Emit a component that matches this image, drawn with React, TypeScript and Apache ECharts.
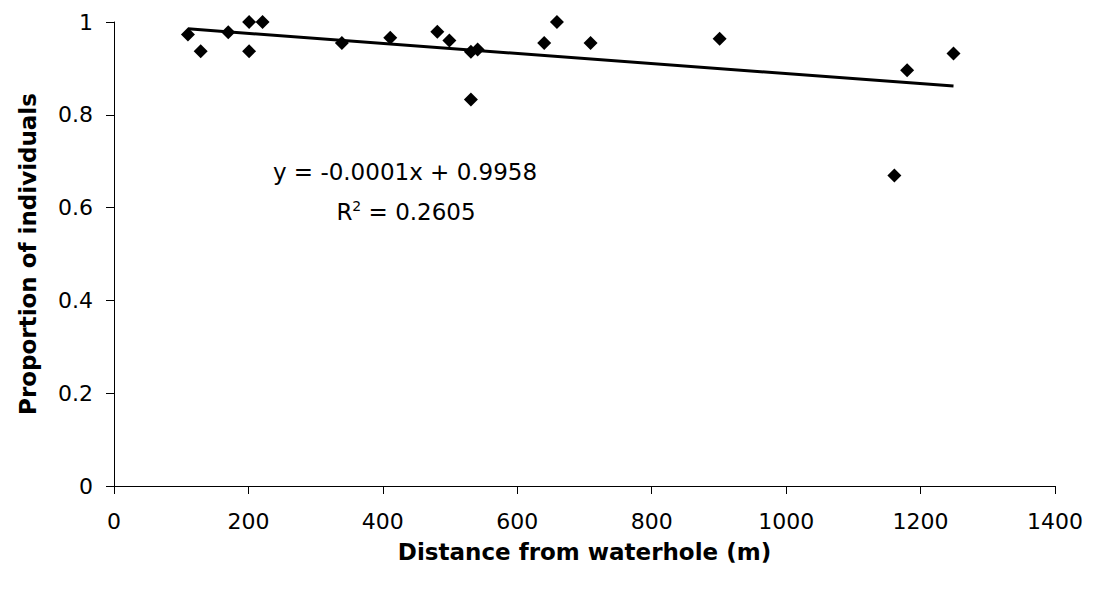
import React, { useEffect, useRef } from "react";
import * as echarts from "echarts";

const distances = [110, 129, 170, 201, 201, 221, 339, 411, 481, 499, 531, 541, 531, 640, 659, 709, 901, 1180, 1249, 1161];
const proportions = [0.973, 0.937, 0.978, 1.0, 0.937, 1.0, 0.955, 0.966, 0.979, 0.96, 0.936, 0.941, 0.833, 0.955, 1.0, 0.955, 0.964, 0.896, 0.932, 0.669];
const xTicks = [0, 200, 400, 600, 800, 1000, 1200, 1400];
const yTicks = [0, 0.2, 0.4, 0.6, 0.8, 1];
const equationText = "y = -0.0001x + 0.9958";
const r2Value = "0.2605";
const xTitle = "Distance from waterhole (m)";
const yTitle = "Proportion of individuals";

const FONT = "DejaVu Sans";

function fit(xs: number[], ys: number[]) {
  const n = xs.length;
  const mx = xs.reduce((a, b) => a + b, 0) / n;
  const my = ys.reduce((a, b) => a + b, 0) / n;
  let sxy = 0;
  let sxx = 0;
  for (let i = 0; i < n; i++) {
    sxy += (xs[i] - mx) * (ys[i] - my);
    sxx += (xs[i] - mx) * (xs[i] - mx);
  }
  const b = sxy / sxx;
  return { b, a: my - b * mx };
}

export default function App() {
  const ref = useRef<HTMLDivElement>(null);
  useEffect(() => {
    document.body.style.margin = "0";
    if (!ref.current) return;
    const chart = echarts.init(ref.current, null, { renderer: "svg" });
    const { a, b } = fit(distances, proportions);
    const xmin = Math.min(...distances);
    const xmax = Math.max(...distances);
    const trend = [
      [xmin, a + b * xmin],
      [xmax, a + b * xmax],
    ];
    chart.setOption({
      animation: false,
      backgroundColor: "#ffffff",
      grid: { left: 114, right: 41, top: 22, bottom: 108, containLabel: false },
      xAxis: {
        type: "value",
        min: xTicks[0],
        max: xTicks[xTicks.length - 1],
        interval: xTicks[1] - xTicks[0],
        name: xTitle,
        nameLocation: "middle",
        nameGap: 54,
        nameTextStyle: { fontFamily: FONT, fontWeight: "bold", fontSize: 23, color: "#000" },
        axisLine: { show: true, onZero: false, lineStyle: { color: "#000", width: 1 } },
        axisTick: { show: true, inside: false, length: 8, lineStyle: { color: "#000", width: 1 } },
        axisLabel: { fontFamily: FONT, fontSize: 22, color: "#000", margin: 24, formatter: (v: number) => String(v) },
        splitLine: { show: false },
      },
      yAxis: {
        type: "value",
        min: yTicks[0],
        max: yTicks[yTicks.length - 1],
        interval: yTicks[1] - yTicks[0],
        name: yTitle,
        nameLocation: "middle",
        nameGap: 75,
        nameTextStyle: { fontFamily: FONT, fontWeight: "bold", fontSize: 23, color: "#000" },
        axisLine: { show: true, onZero: false, lineStyle: { color: "#000", width: 1 } },
        axisTick: { show: true, inside: false, length: 8, lineStyle: { color: "#000", width: 1 } },
        axisLabel: { fontFamily: FONT, fontSize: 22, color: "#000", margin: 21 },
        splitLine: { show: false },
      },
      series: [
        {
          type: "line",
          data: trend,
          symbol: "none",
          lineStyle: { color: "#000", width: 3 },
          z: 2,
        },
        {
          type: "scatter",
          data: distances.map((d, i) => [d, proportions[i]]),
          symbol: "diamond",
          symbolSize: 14,
          itemStyle: { color: "#000", opacity: 1 },
          z: 3,
        },
      ],
      graphic: [
        {
          type: "text",
          x: 405,
          y: 172,
          style: {
            text: equationText,
            fontFamily: FONT,
            fontSize: 23,
            fill: "#000",
            align: "center",
            verticalAlign: "middle",
          },
        },
        {
          type: "text",
          x: 406,
          y: 212,
          style: {
            text: "R{sup|2} = " + r2Value,
            fontFamily: FONT,
            fontSize: 23,
            fill: "#000",
            align: "center",
            verticalAlign: "middle",
            rich: {
              sup: { fontFamily: FONT, fontSize: 14, fill: "#000", verticalAlign: "top", padding: [0, 0, 12, 0] },
            },
          },
        },
      ],
    });
    return () => chart.dispose();
  }, []);
  return <div ref={ref} style={{ width: 1096, height: 594 }} />;
}
